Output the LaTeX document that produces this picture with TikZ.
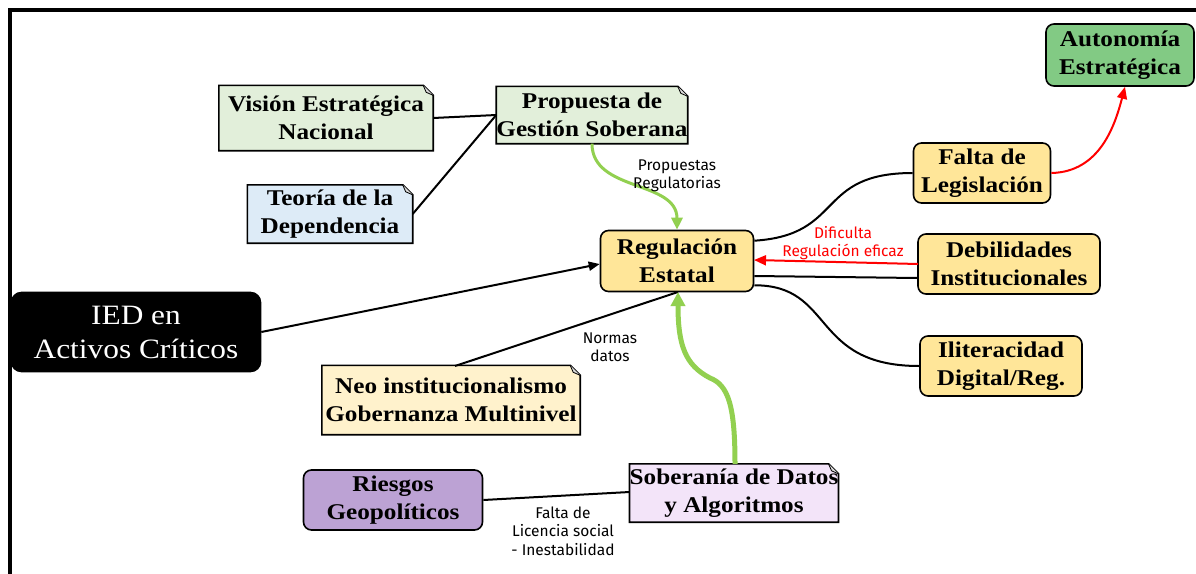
\documentclass[tikz,border=0pt]{standalone}
\usepackage{fontspec}
\setmainfont{Liberation Serif}
\newfontfamily\boxfont[FakeStretch=1.12]{Liberation Serif}
\newfontfamily\lblfont{Fira Sans}
\usetikzlibrary{arrows.meta,backgrounds,calc}
\definecolor{autgreen}{HTML}{82CA84}
\definecolor{palegreen}{HTML}{E2EFDA}
\definecolor{paleblue}{HTML}{DDEBF7}
\definecolor{yel}{HTML}{FFE699}
\definecolor{paleyel}{HTML}{FFF2CC}
\definecolor{purp}{HTML}{BCA2D4}
\definecolor{palepurp}{HTML}{F3E4F9}
\definecolor{grn}{HTML}{92D050}
\tikzset{
  box/.style={font=\boxfont\bfseries\fontsize{22.5}{28}\selectfont, align=center, inner sep=0pt, text=black},
  rbox/.style={box, draw, line width=1.6pt, rounded corners=8pt, fill=#1},
  notebox/.style={box},
  lbl/.style={font=\lblfont\fontsize{15.5}{18.5}\selectfont, align=center, inner sep=0pt},
  conn/.style={line width=2pt, black},
  arr/.style={-{Triangle[length=11pt,width=9pt]}},
  greenarr/.style={draw=grn, line width=3pt, -{Triangle[length=12pt,width=11pt]}},
  redarr/.style={draw=red, line width=2pt, -{Triangle[length=12pt,width=10pt]}}
}
\begin{document}
\begin{tikzpicture}[x=1pt,y=-1pt]
\useasboundingbox (0,0) rectangle (1196,573);
\draw[line width=4pt] (10,575) -- (10,10) -- (1198,10);

% nodes
\node[rbox=autgreen, minimum width=148pt, minimum height=62pt] (aut) at (1120,55) {Autonomía\\Estratégica};
\node[notebox, minimum width=214pt, minimum height=65pt] (vis) at (326,118) {Visión Estratégica\\Nacional};
\node[notebox, minimum width=191pt, minimum height=57pt] (prop) at (592,115) {Propuesta de\\Gestión Soberana};
\node[notebox, minimum width=165pt, minimum height=58pt] (teo) at (330,214) {Teoría de la\\Dependencia};
\node[rbox=yel, minimum width=137pt, minimum height=60pt] (falta) at (982,173) {Falta de\\Legislación};
\node[rbox=yel, minimum width=153pt, minimum height=61pt] (reg) at (677,261) {Regulación\\Estatal};
\node[rbox=yel, minimum width=182pt, minimum height=60pt] (deb) at (1009,264) {Debilidades\\Institucionales};
\node[rbox=black, minimum width=249pt, minimum height=79pt, text=white,
      font=\boxfont\fontsize{28}{34}\selectfont, rounded corners=10pt] (ied) at (136,332) {IED en\\Activos Críticos};
\node[rbox=yel, minimum width=162pt, minimum height=60pt] (ili) at (1001,366) {Iliteracidad\\Digital/Reg.};
\node[notebox, minimum width=258pt, minimum height=69pt] (neo) at (451,400) {Neo institucionalismo\\Gobernanza Multinivel};
\node[rbox=purp, minimum width=179pt, minimum height=60pt] (rie) at (393,500) {Riesgos\\Geopolíticos};
\node[notebox, minimum width=208pt, minimum height=58pt] (sob) at (734,493) {Soberanía de Datos\\y Algoritmos};

% note shapes on background
\begin{scope}[on background layer]
\foreach \n/\c in {vis/palegreen, prop/palegreen, teo/paleblue, neo/paleyel, sob/palepurp}{
  \filldraw[fill=\c, line width=1.6pt] (\n.south west) -- (\n.south east) -- ($(\n.north east)+(0,10)$) -- ($(\n.north east)+(-10,0)$) -- (\n.north west) -- cycle;
  \filldraw[fill=gray!30, line width=0.8pt] ($(\n.north east)+(0,10)$) .. controls ($(\n.north east)+(-4,8)$) .. ($(\n.north east)+(-7,7)$) .. controls ($(\n.north east)+(-8,4)$) .. ($(\n.north east)+(-10,0)$);
}
\end{scope}

% coordinates for connector ends
\coordinate (regB) at (678,292);
\coordinate (regRin) at (754,260);
\coordinate (debRout) at (918,264);

% connectors
\draw[conn] (vis.east) -- (prop.west);
\draw[conn] (teo.east) -- (prop.west);
\draw[greenarr] (prop.south) .. controls (592,192) and (677,180) .. (reg.north);
\draw[conn] ($(reg.north east)+(0,11)$) .. controls (845,235) and (815,173) .. (falta.west);
\draw[redarr] (falta.east) .. controls (1100,172) and (1115,125) .. ($(aut.south)+(5,0)$);
\draw[redarr] (debRout) -- (regRin);
\draw[conn] ($(reg.east)+(0,15)$) -- ($(deb.west)+(0,14)$);
\draw[conn] ($(reg.south east)+(0,-7)$) .. controls (835,285) and (810,366) .. (ili.west);
\draw[conn, arr] (ied.east) -- ($(reg.west)+(0,3)$);
\draw[conn] (455,366) -- (regB);
\draw[greenarr, line width=5pt, -{Triangle[length=14pt,width=14pt]}] ($(sob.north)+(1,0)$) .. controls (735,405) and (728,385) .. (710,378) .. controls (685,365) and (678,345) .. (regB);
\draw[conn] (rie.east) -- ($(sob.west)+(0,-1)$);

% labels
\node[lbl] (l1) at (677,176) {Propuestas\\Regulatorias};
\node[lbl, text=red] (l2) at (843,243) {Dificulta\\Regulación eficaz};
\node[lbl] (l3) at (610,347) {Normas\\datos};
\node[lbl] (l4) at (563,531) {Falta de\\Licencia social\\- Inestabilidad};
\end{tikzpicture}
\end{document}
